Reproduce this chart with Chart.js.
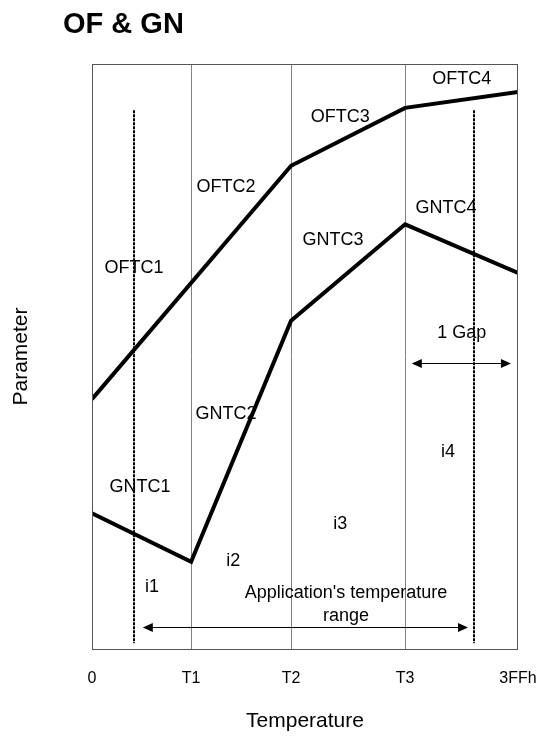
<!DOCTYPE html>
<html>
<head>
<meta charset="utf-8">
<script src="https://cdn.jsdelivr.net/npm/chart.js@4.4.1/dist/chart.umd.min.js"></script>
<style>
  html, body { margin: 0; background: #fff; }
  #wrap { width: 536px; height: 736px; }
</style>
</head>
<body>
<div id="wrap"><canvas id="chart"></canvas></div>
<script>
const FONT = "'Liberation Sans', Arial, sans-serif";

// x axis: 0 .. 3FFh, with the three breakpoints
const tickValues = [0, 238, 478, 752, 1023];
const tickLabels = ['0', 'T1', 'T2', 'T3', '3FFh'];

// OF curve (straight through T1)
const ofTemps = [0, 478, 752, 1023];
const ofValues = [42.7, 82.6, 92.5, 95.2];

// GN curve
const gnTemps = [0, 238, 478, 752, 1023];
const gnValues = [23.2, 14.9, 56.1, 72.6, 64.3];

// text notes inside the plot (data units)
const noteTexts = ['OFTC1', 'OFTC2', 'OFTC3', 'OFTC4', 'GNTC1', 'GNTC2', 'GNTC3', 'GNTC4',
  'i1', 'i2', 'i3', 'i4', '1 Gap', "Application's temperature", 'range'];
const noteTemps = [101, 322, 596, 888, 115, 322, 579, 850, 144, 339, 596, 855, 888, 610, 610];
const noteValues = [65.1, 79.0, 90.9, 97.4, 27.7, 40.2, 69.9, 75.4, 10.6, 15.0, 21.4, 33.7, 54.0, 9.6, 5.6];

// application range limits and the two double arrows
const rangeLimits = [101, 917];
const rangeSpan = [1.0, 92.1];
const appArrow = [122, 903, 3.8];
const gapArrow = [768, 1006, 48.9];

function toPoints(xs, ys) {
  return xs.map((x, i) => ({ x, y: ys[i] }));
}

function arrowHead(ctx, x, y, dir) {
  ctx.beginPath();
  ctx.moveTo(x, y);
  ctx.lineTo(x - dir * 10, y - 4.5);
  ctx.lineTo(x - dir * 10, y + 4.5);
  ctx.closePath();
  ctx.fill();
}

function doubleArrow(ctx, sx, sy, arr) {
  const x1 = sx.getPixelForValue(arr[0]);
  const x2 = sx.getPixelForValue(arr[1]);
  const y = Math.round(sy.getPixelForValue(arr[2])) + 0.5;
  ctx.strokeStyle = '#000';
  ctx.fillStyle = '#000';
  ctx.lineWidth = 1;
  ctx.beginPath();
  ctx.moveTo(x1 + 4, y);
  ctx.lineTo(x2 - 4, y);
  ctx.stroke();
  arrowHead(ctx, x1, y, -1);
  arrowHead(ctx, x2, y, 1);
}

const decorations = {
  id: 'decorations',
  afterDraw(chart) {
    const { ctx, chartArea: a } = chart;
    const sx = chart.scales.x, sy = chart.scales.y;
    ctx.save();

    // plot frame
    ctx.strokeStyle = '#555';
    ctx.lineWidth = 1;
    ctx.strokeRect(a.left + 0.5, a.top + 0.5, a.right - a.left - 1, a.bottom - a.top);

    // application range limit lines
    ctx.strokeStyle = '#000';
    ctx.lineWidth = 2;
    ctx.setLineDash([3, 1]);
    rangeLimits.forEach(v => {
      const x = Math.round(sx.getPixelForValue(v));
      ctx.beginPath();
      ctx.moveTo(x, sy.getPixelForValue(rangeSpan[1]));
      ctx.lineTo(x, sy.getPixelForValue(rangeSpan[0]));
      ctx.stroke();
    });
    ctx.setLineDash([]);

    doubleArrow(ctx, sx, sy, appArrow);
    doubleArrow(ctx, sx, sy, gapArrow);

    // notes
    ctx.fillStyle = '#000';
    ctx.font = '18px ' + FONT;
    ctx.textAlign = 'center';
    ctx.textBaseline = 'middle';
    noteTexts.forEach((t, i) => {
      ctx.fillText(t, sx.getPixelForValue(noteTemps[i]), sy.getPixelForValue(noteValues[i]));
    });

    // heading
    ctx.font = 'bold 29px ' + FONT;
    ctx.textAlign = 'left';
    ctx.fillText('OF & GN', 63, 25);
    ctx.restore();
  }
};

new Chart(document.getElementById('chart'), {
  type: 'line',
  data: {
    datasets: [
      { label: 'OF', data: toPoints(ofTemps, ofValues), borderColor: '#000', borderWidth: 4, pointRadius: 0, tension: 0 },
      { label: 'GN', data: toPoints(gnTemps, gnValues), borderColor: '#000', borderWidth: 4, pointRadius: 0, tension: 0 }
    ]
  },
  options: {
    responsive: true, maintainAspectRatio: false, animation: false,
    layout: { padding: { left: 0, right: 18, top: 64, bottom: 0 } },
    plugins: { legend: { display: false }, tooltip: { enabled: false }, title: { display: false } },
    scales: {
      x: {
        type: 'linear', min: 0, max: 1023,
        afterBuildTicks: s => { s.ticks = tickValues.map(v => ({ value: v })); },
        afterFit: s => { s.height = 87; s.paddingLeft = 0; s.paddingRight = 0; },
        ticks: {
          autoSkip: false, maxRotation: 0, padding: 20, color: '#000',
          font: { family: FONT, size: 16 },
          callback: v => tickLabels[tickValues.indexOf(v)]
        },
        grid: {
          drawTicks: false,
          color: c => (c.tick && (c.tick.value === 0 || c.tick.value === 1023)) ? 'rgba(0,0,0,0)' : '#808080'
        },
        border: { display: false },
        title: { display: true, text: 'Temperature', color: '#000', font: { family: FONT, size: 21 }, padding: { top: 0, bottom: 2 } }
      },
      y: {
        min: 0, max: 100,
        afterFit: s => { s.width = 92; },
        ticks: { display: false },
        grid: { display: false },
        border: { display: false },
        title: { display: true, text: 'Parameter', color: '#000', font: { family: FONT, size: 21 }, padding: { top: 9, bottom: 0 } }
      }
    }
  },
  plugins: [decorations]
});
</script>
</body>
</html>
